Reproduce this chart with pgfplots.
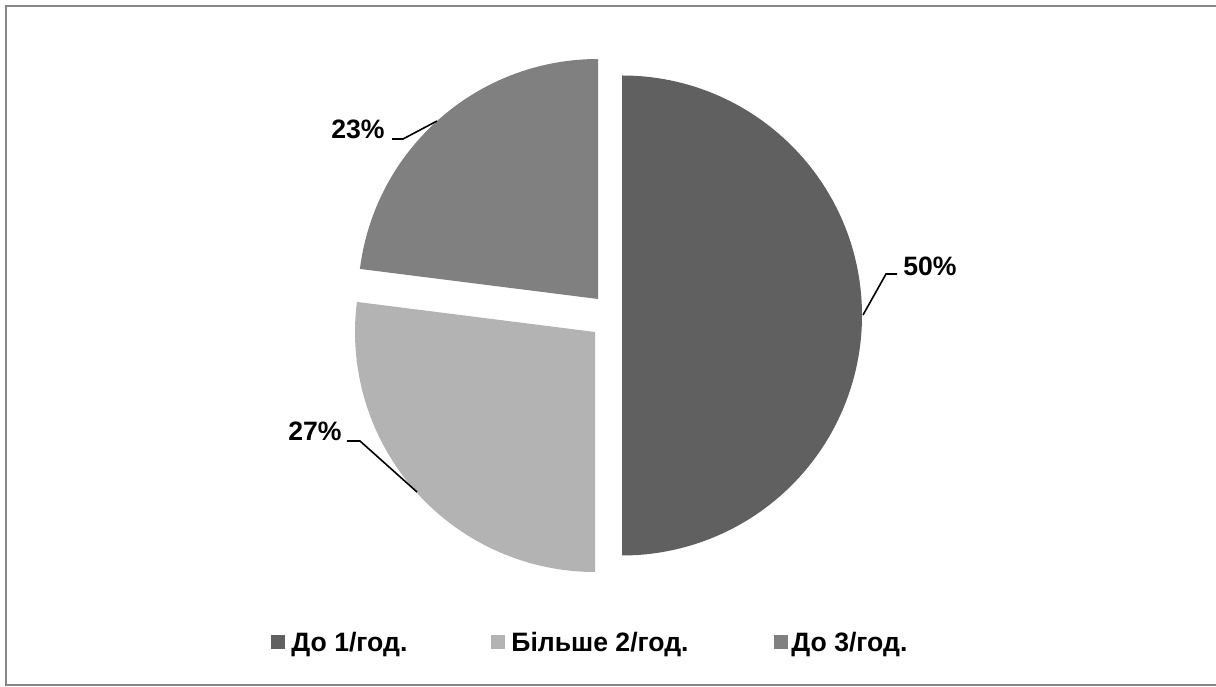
\documentclass[border=0pt]{standalone}
\usepackage{fontspec}
\setmainfont{Liberation Sans}
\usepackage{pgfplots}
\usepackage{pgfplotstable}
\pgfplotsset{compat=1.18}
\definecolor{sA}{RGB}{96,96,96}
\definecolor{sB}{RGB}{179,179,179}
\definecolor{sC}{RGB}{128,128,128}
\definecolor{frame}{RGB}{134,134,134}
% value = share in %, dx/dy = explosion offset of the slice (px units)
\pgfplotstableread{
value dx dy
50 24 0
27 -3 -16.5
23 0 16.5
}\piedata
\pgfplotstablegetelem{0}{value}\of\piedata \let\vA\pgfplotsretval
\pgfplotstablegetelem{1}{value}\of\piedata \let\vB\pgfplotsretval
\pgfplotstablegetelem{2}{value}\of\piedata \let\vC\pgfplotsretval
\pgfplotstablegetelem{0}{dx}\of\piedata \let\xA\pgfplotsretval
\pgfplotstablegetelem{1}{dx}\of\piedata \let\xB\pgfplotsretval
\pgfplotstablegetelem{2}{dx}\of\piedata \let\xC\pgfplotsretval
\pgfplotstablegetelem{0}{dy}\of\piedata \let\yA\pgfplotsretval
\pgfplotstablegetelem{1}{dy}\of\piedata \let\yB\pgfplotsretval
\pgfplotstablegetelem{2}{dy}\of\piedata \let\yC\pgfplotsretval
\pgfmathsetmacro\aO{90}
\pgfmathsetmacro\aA{\aO-3.6*\vA}
\pgfmathsetmacro\aB{\aA-3.6*\vB}
\pgfmathsetmacro\aC{\aB-3.6*\vC}
\pgfmathsetmacro\cxA{598+\xA}\pgfmathsetmacro\cyA{370.5+\yA}
\pgfmathsetmacro\cxB{598+\xB}\pgfmathsetmacro\cyB{370.5+\yB}
\pgfmathsetmacro\cxC{598+\xC}\pgfmathsetmacro\cyC{370.5+\yC}
\begin{document}
\begin{tikzpicture}
\begin{axis}[
  name=pie,
  x=0.5pt, y=0.5pt,
  xmin=0, xmax=1216, ymin=0, ymax=686,
  hide axis, clip=false, scale only axis,
]
\fill[sA] (axis cs:\cxA,\cyA) -- ++(\aO:120pt) arc[start angle=\aO, end angle=\aA, radius=120pt] -- cycle;
\fill[sB] (axis cs:\cxB,\cyB) -- ++(\aA:120pt) arc[start angle=\aA, end angle=\aB, radius=120pt] -- cycle;
\fill[sC] (axis cs:\cxC,\cyC) -- ++(\aB:120pt) arc[start angle=\aB, end angle=\aC, radius=120pt] -- cycle;
% frame
\draw[frame, line width=1pt] (axis cs:1216,680) -- (axis cs:6,680) -- (axis cs:6,1.5) -- (axis cs:1216,1.5);
% data labels with leader lines
\draw[black, line width=0.8pt] (axis cs:863,371) -- (axis cs:886,412) -- (axis cs:897,412);
\draw[black, line width=0.8pt] (axis cs:437,565) -- (axis cs:403,547) -- (axis cs:392,547);
\draw[black, line width=0.8pt] (axis cs:417,194) -- (axis cs:360,245) -- (axis cs:347,245);
\begin{scope}[every node/.style={inner sep=0pt, font=\fontsize{13.3}{16}\selectfont\bfseries}]
\node[anchor=base west] at (axis cs:903,410) {\vA\%};
\node[anchor=base east] at (axis cs:385,547) {\vC\%};
\node[anchor=base east] at (axis cs:342,245) {\vB\%};
% legend
\fill[sA] (axis cs:271,37) rectangle (axis cs:285,51);
\fill[sB] (axis cs:491,37) rectangle (axis cs:505,51);
\fill[sC] (axis cs:774,37) rectangle (axis cs:788,51);
\node[anchor=base west] at (axis cs:291,35) {До 1/год.};
\node[anchor=base west] at (axis cs:511,35) {Більше 2/год.};
\node[anchor=base west] at (axis cs:791,35) {До 3/год.};
\end{scope}
\end{axis}
\pgfresetboundingbox
\useasboundingbox (pie.south west) rectangle (pie.north east);
\end{tikzpicture}
\end{document}
